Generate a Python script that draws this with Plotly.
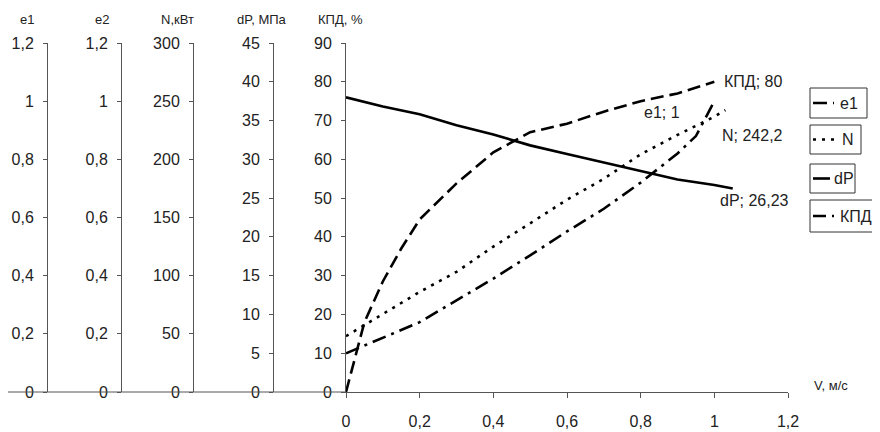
import plotly.graph_objects as go

# ---- data ----
v_e1 = [0, 0.1, 0.2, 0.3, 0.4, 0.5, 0.6, 0.7, 0.8, 0.9, 0.95, 1.0]
e1 = [0.133, 0.187, 0.24, 0.315, 0.39, 0.47, 0.552, 0.63, 0.72, 0.82, 0.88, 1.0]

v_n = [0, 0.1, 0.2, 0.3, 0.4, 0.5, 0.6, 0.7, 0.8, 0.9, 1.0, 1.03]
n_kw = [48, 66.7, 86, 103.3, 125, 145, 165.3, 183.3, 204.3, 221, 236.7, 242.2]

v_dp = [0, 0.1, 0.2, 0.3, 0.4, 0.5, 0.6, 0.7, 0.8, 0.9, 1.0, 1.05]
dp = [38.0, 36.8, 35.8, 34.4, 33.2, 31.8, 30.7, 29.6, 28.5, 27.4, 26.7, 26.23]

v_kpd = [0, 0.05, 0.1, 0.15, 0.2, 0.3, 0.4, 0.5, 0.6, 0.7, 0.8, 0.9, 1.0]
kpd = [0, 18, 28.5, 37, 44.5, 53.8, 61.8, 67, 69.2, 72.3, 75, 77, 80]

names = ["e1", "N", "dP", "КПД"]
axis_titles = ["e1", "e2", "N,кВт", "dP, МПа", "КПД, %"]
x_title = "V, м/с"

def fmt(v):
    return ("%g" % v).replace(".", ",")

# ---- geometry (page pixels; the page body adds an 8px offset) ----
OFF = 8
W, H = 880 - OFF, 432 - OFF
LEFT_P, RIGHT_P, TOP_P, BOT_P = 0, 788, 43, 392   # page coords of plot paper box
ML = LEFT_P - OFF if LEFT_P - OFF > 0 else 0
MR = W - (RIGHT_P - OFF)
MT = TOP_P - OFF
MB = H - (BOT_P - OFF)
PW = W - ML - MR
PH = H - MT - MB
def px(xp):
    return (xp - OFF - ML) / PW
def py(yp):
    return (H - MB - (yp - OFF)) / PH

FONT = "Liberation Sans, Arial, sans-serif"
AX = "#555555"
LW = 2.6
DASH_E1 = "14px,6px,3px,6px"
DASH_N = "3px,6px"
DASH_KPD = "13px,6px"
dashes = [DASH_E1, DASH_N, "solid", DASH_KPD]

fig = go.Figure()
fig.add_trace(go.Scatter(x=v_e1, y=e1, name=names[0], yaxis="y2", mode="lines",
                         line=dict(color="black", width=LW, dash=DASH_E1)))
fig.add_trace(go.Scatter(x=v_n, y=n_kw, name=names[1], yaxis="y4", mode="lines",
                         line=dict(color="black", width=LW, dash=DASH_N)))
fig.add_trace(go.Scatter(x=v_dp, y=dp, name=names[2], yaxis="y5", mode="lines",
                         line=dict(color="black", width=LW)))
fig.add_trace(go.Scatter(x=v_kpd, y=kpd, name=names[3], yaxis="y", mode="lines",
                         line=dict(color="black", width=LW, dash=DASH_KPD)))
# empty trace so the e2 axis is drawn
fig.add_trace(go.Scatter(x=[None], y=[None], yaxis="y3", showlegend=False,
                         hoverinfo="skip"))

tickfont = dict(family=FONT, size=16, color="#222")
common_y = dict(showgrid=False, zeroline=False, showline=True, linecolor=AX,
                linewidth=1, ticks="outside", ticklen=4, tickcolor=AX,
                tickfont=tickfont, ticklabelstandoff=6, fixedrange=True,
                automargin=False)

x_dom0 = px(346)
fig.update_layout(
    width=W, height=H,
    margin=dict(l=ML, r=MR, t=MT, b=MB, autoexpand=False),
    paper_bgcolor="white", plot_bgcolor="white",
    separators=", ",
    showlegend=False,
    xaxis=dict(domain=[x_dom0, 1], range=[0, 1.2], dtick=0.2, tick0=0,
               showgrid=False, zeroline=False, showline=True, linecolor=AX,
               ticks="outside", ticklen=5, tickcolor=AX, tickfont=tickfont,
               ticklabelstandoff=10, fixedrange=True, automargin=False),
    yaxis=dict(range=[0, 90], dtick=10, anchor="x", **common_y),
    yaxis2=dict(range=[0, 1.2], dtick=0.2, overlaying="y", anchor="free",
                position=px(47), **common_y),
    yaxis3=dict(range=[0, 1.2], dtick=0.2, overlaying="y", anchor="free",
                position=px(121), **common_y),
    yaxis4=dict(range=[0, 300], dtick=50, overlaying="y", anchor="free",
                position=px(193), **common_y),
    yaxis5=dict(range=[0, 45], dtick=5, overlaying="y", anchor="free",
                position=px(273), **common_y),
)

# horizontal base line extending through the left axes
fig.add_shape(type="line", xref="paper", yref="paper", x0=px(8), x1=x_dom0,
              y0=0, y1=0, line=dict(color=AX, width=1))

# legend: individual boxes with short line samples
boxes = [(810, 867, 88, 118), (810, 861, 125, 154), (810, 855, 164, 193), (810, 884, 200, 232)]
text_x = [838, 840, 832, 838]
sample_end = [834, 834, 830, 834]
for (x0, x1, y0, y1), nm, dsh, tx, se in zip(boxes, names, dashes, text_x, sample_end):
    fig.add_shape(type="rect", xref="paper", yref="paper",
                  x0=px(x0), x1=px(x1), y0=py(y1), y1=py(y0),
                  line=dict(color="#333", width=1), fillcolor="rgba(0,0,0,0)")
    yc = py((y0 + y1) / 2)
    fig.add_shape(type="line", xref="paper", yref="paper",
                  x0=px(813), x1=px(se), y0=yc, y1=yc,
                  line=dict(color="black", width=LW, dash=dsh))
    fig.add_annotation(text=nm, xref="paper", yref="paper", x=px(tx), y=yc,
                       xanchor="left", yanchor="middle", showarrow=False,
                       font=dict(family=FONT, size=16, color="#222"))

# axis titles
title_x = [27, 102, 177, 262, 340]
for t, xc in zip(axis_titles, title_x):
    fig.add_annotation(text=t, xref="paper", yref="paper", x=px(xc), y=py(20),
                       xanchor="center", yanchor="middle", showarrow=False,
                       font=dict(family=FONT, size=13, color="#222"))
fig.add_annotation(text=x_title, xref="paper", yref="paper", x=px(812), y=py(385),
                   xanchor="left", yanchor="middle", showarrow=False,
                   font=dict(family=FONT, size=13, color="#222"))

# data labels
lab_font = dict(family=FONT, size=16, color="#222")
fig.add_annotation(text=f"КПД; {fmt(kpd[-1])}", x=v_kpd[-1], y=kpd[-1], yref="y",
                   xanchor="left", yanchor="middle", xshift=8, showarrow=False, font=lab_font)
fig.add_annotation(text=f"e1; {fmt(e1[-1])}", x=v_e1[-1], y=e1[-1], yref="y2",
                   xanchor="right", yanchor="middle", xshift=-32, yshift=-11,
                   showarrow=False, font=lab_font)
fig.add_annotation(text=f"N; {fmt(n_kw[-1])}", x=v_n[-1], y=n_kw[-1], yref="y4",
                   xanchor="left", yanchor="middle", xshift=-5, yshift=-25,
                   showarrow=False, font=lab_font)
fig.add_annotation(text=f"dP; {fmt(dp[-1])}", x=v_dp[-1], y=dp[-1], yref="y5",
                   xanchor="left", yanchor="middle", xshift=-15, yshift=-12,
                   showarrow=False, font=lab_font)

fig.write_html("out.html")
